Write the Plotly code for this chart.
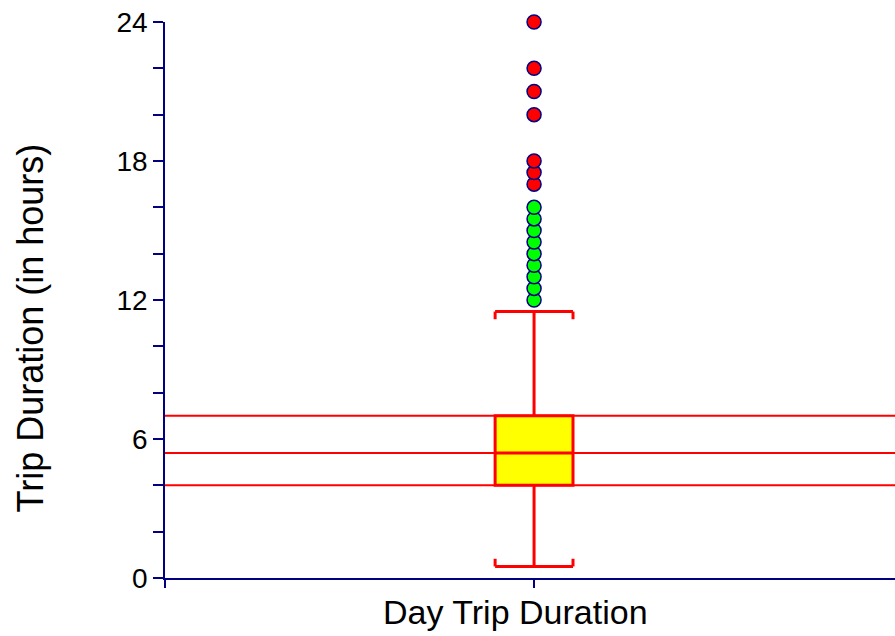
import plotly.graph_objects as go

# ---- data ----
category = "Day Trip Duration"
q1 = 4.0
median = 5.4
q3 = 7.0
lower_fence = 0.5
upper_fence = 11.5
outliers_near = [12.0, 12.5, 13.0, 13.5, 14.0, 14.5, 15.0, 15.5, 16.0]
outliers_far = [17.0, 17.5, 18.0, 20.0, 21.0, 22.0, 24.0]
y_tick_vals = [0, 2, 4, 6, 8, 10, 12, 14, 16, 18, 20, 22, 24]
y_tick_text = ["0", "", "", "6", "", "", "12", "", "", "18", "", "", "24"]

NAVY = "#000080"
RED = "#FF0000"
FONT = "Liberation Sans, Arial, sans-serif"

box_w = 0.211
hook = 0.33
cx = 0

fig = go.Figure()

# reference lines across the plot at q1, median, q3
for v in (q1, median, q3):
    fig.add_shape(type="line", xref="paper", x0=0, x1=1, yref="y", y0=v, y1=v,
                  line=dict(color=RED, width=2), layer="below")

fig.add_trace(go.Box(
    x=[cx], q1=[q1], median=[median], q3=[q3],
    lowerfence=[lower_fence], upperfence=[upper_fence],
    width=box_w, whiskerwidth=1, boxpoints=False,
    fillcolor="#FFFF00", line=dict(color=RED, width=3),
    hoverinfo="skip", showlegend=False,
))

# whisker cap hooks
hx = box_w / 2
fig.add_trace(go.Scatter(
    x=[cx - hx, cx - hx, None, cx + hx, cx + hx, None,
       cx - hx, cx - hx, None, cx + hx, cx + hx],
    y=[upper_fence, upper_fence - hook, None, upper_fence, upper_fence - hook, None,
       lower_fence, lower_fence + hook, None, lower_fence, lower_fence + hook],
    mode="lines", line=dict(color=RED, width=3), showlegend=False, hoverinfo="skip",
))

fig.add_trace(go.Scatter(
    x=[cx] * len(outliers_near), y=outliers_near, mode="markers",
    marker=dict(size=14, color="#00FF00", line=dict(color=NAVY, width=1.5)),
    showlegend=False, cliponaxis=False,
))
fig.add_trace(go.Scatter(
    x=[cx] * len(outliers_far), y=outliers_far, mode="markers",
    marker=dict(size=14, color=RED, line=dict(color=NAVY, width=1.5)),
    showlegend=False, cliponaxis=False,
))

fig.update_layout(
    width=895, height=636,
    margin=dict(l=165, r=0, t=22, b=58),
    paper_bgcolor="white", plot_bgcolor="white",
    font=dict(family=FONT, color="black"),
    showlegend=False,
    xaxis=dict(
        range=[-1, 0.978], showgrid=False, zeroline=False,
        showline=True, linecolor=NAVY, linewidth=1.5,
        tickvals=[-1, 0], ticktext=["", ""], ticks="outside",
        ticklen=8, tickcolor=NAVY, tickwidth=1.5,
    ),
    yaxis=dict(
        range=[0, 24], showgrid=False, zeroline=False,
        showline=True, linecolor=NAVY, linewidth=1.5,
        tickvals=y_tick_vals, ticktext=y_tick_text, ticks="outside",
        ticklen=10, tickcolor=NAVY, tickwidth=1.5,
        tickfont=dict(size=28, family=FONT, color="black"),
    ),
    annotations=[
        dict(text="Trip Duration (in hours)", xref="paper", yref="paper",
             x=(30 - 165) / 730, y=(578 - 328.5) / 556, textangle=-90,
             showarrow=False, xanchor="center", yanchor="middle",
             font=dict(size=36, family=FONT, color="black")),
        dict(text=category, xref="paper", yref="paper",
             x=(515 - 165) / 730, y=(578 - 612) / 556,
             showarrow=False, xanchor="center", yanchor="middle",
             font=dict(size=34, family=FONT, color="black")),
    ],
)

fig.write_html(
    "out.html",
    config={"displayModeBar": False},
    post_script="document.body.style.margin='0';document.body.style.overflow='hidden';",
)
